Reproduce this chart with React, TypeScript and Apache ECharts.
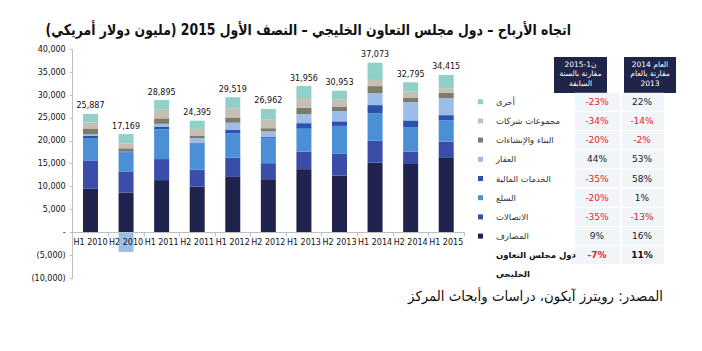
import React, { useEffect, useRef } from "react";
import * as echarts from "echarts";

const categories = ["H1 2010", "H2 2010", "H1 2011", "H2 2011", "H1 2012", "H2 2012", "H1 2013", "H2 2013", "H1 2014", "H2 2014", "H1 2015"];
const banks = [9500, 8700, 11400, 10000, 12100, 11600, 13800, 12400, 15200, 14900, 16400];
const telecom = [6100, 4500, 4600, 3700, 4200, 3500, 3850, 4750, 4800, 2750, 3400];
const commodities = [5000, 4300, 6500, 5800, 5300, 5400, 5000, 6100, 6000, 5350, 4700];
const financial = [450, 150, 600, 100, 750, 300, 1200, 1000, 1800, 1450, 1100];
const realEstate = [350, -4300, 600, 1000, 1600, 1250, 2000, 2250, 2600, 4000, 3700];
const construction = [1300, 700, 1200, 550, 1150, 700, 1400, 1000, 1550, 900, 1200];
const conglomerates = [1300, 1100, 2000, 1450, 2000, 1850, 2100, 1600, 1350, 1400, 1000];
const other = [1887, 2019, 1995, 1795, 2419, 2362, 2606, 1853, 3773, 2045, 2915];
const totals = [25887, 17169, 28895, 24395, 29519, 26962, 31956, 30953, 37073, 32795, 34415];

// table (top to bottom)
const tableNames = ["أخرى", "مجموعات شركات", "البناء والإنشاءات", "العقار", "الخدمات المالية", "السلع", "الاتصالات", "المصارف"];
const changeH1_2015 = ["-23%", "-34%", "-20%", "44%", "-35%", "-20%", "-35%", "9%"];
const change2014 = ["22%", "-14%", "-2%", "53%", "58%", "1%", "-13%", "16%"];
const totalName = ["دول مجلس التعاون", "الخليجي"];
const totalH1_2015 = "-7%";
const total2014 = "11%";
const header1 = ["ن1-2015", "مقارنة بالسنة", "السابقة"];
const header2 = ["العام 2014", "مقارنة بالعام", "2013"];
const title = "اتجاه الأرباح – دول مجلس التعاون الخليجي – النصف الأول 2015 (مليون دولار أمريكي)";
const source = "المصدر: رويترز آيكون، دراسات وأبحاث المركز";

const seriesDefs = [
  { name: "المصارف", data: banks, color: "#21234f" },
  { name: "الاتصالات", data: telecom, color: "#3a4da9" },
  { name: "السلع", data: commodities, color: "#4b8fd6" },
  { name: "الخدمات المالية", data: financial, color: "#2c52b0" },
  { name: "العقار", data: realEstate, color: "#9cbde9" },
  { name: "البناء والإنشاءات", data: construction, color: "#7e7b69" },
  { name: "مجموعات شركات", data: conglomerates, color: "#c5bfb3" },
  { name: "أخرى", data: other, color: "#8fd1c8" },
];

const FONT = "DejaVu Sans";

export default function App() {
  const ref = useRef<HTMLDivElement>(null);
  useEffect(() => {
    document.body.style.margin = "0";
    if (!ref.current) return;
    const chart = echarts.init(ref.current, null, { renderer: "svg" });
    const colorOf = (n: string) => seriesDefs.find((s) => s.name === n)!.color;
    const graphics: any[] = [];
    graphics.push({
      type: "text", x: 571, y: 30, scaleX: 0.83, originX: 0, originY: 0,
      style: { text: title, font: `bold 15px ${FONT}`, fill: "#111", textAlign: "right", textVerticalAlign: "middle" },
    });
    // header boxes
    const boxes = [
      { x: 554, w: 53, lines: header1 },
      { x: 624, w: 52, lines: header2 },
    ];
    boxes.forEach((b) => {
      graphics.push({ type: "rect", shape: { x: b.x, y: 57, width: b.w, height: 36 }, style: { fill: "#1f2449" } });
      b.lines.forEach((ln, i) => {
        graphics.push({
          type: "text", x: b.x + b.w / 2, y: 64.5 + i * 9.4,
          style: { text: ln, font: `7.5px ${FONT}`, fill: "#fff", textAlign: "center", textVerticalAlign: "middle" },
        });
      });
    });
    const rowY = (i: number) => 101.7 + i * 19.2;
    const col1 = 597, col2 = 642;
    for (let i = 0; i < 9; i++) {
      graphics.push({ type: "rect", shape: { x: 575, y: rowY(i) - 9, width: 45, height: 18 }, style: { fill: "#f1f5f9" } });
      graphics.push({ type: "rect", shape: { x: 622, y: rowY(i) - 9, width: 42, height: 18 }, style: { fill: "#f1f5f9" } });
    }
    tableNames.forEach((n, i) => {
      const y = rowY(i);
      graphics.push({ type: "rect", shape: { x: 478, y: y - 2.5, width: 5, height: 5 }, style: { fill: colorOf(n) } });
      graphics.push({ type: "text", x: 496, y, style: { text: n, font: `8.5px ${FONT}`, fill: "#333", textAlign: "left", textVerticalAlign: "middle" } });
      const v1 = changeH1_2015[i], v2 = change2014[i];
      graphics.push({ type: "text", x: col1, y, style: { text: v1, font: `9px ${FONT}`, fill: v1.startsWith("-") ? "#e5242a" : "#222", textAlign: "center", textVerticalAlign: "middle" } });
      graphics.push({ type: "text", x: col2, y, style: { text: v2, font: `9px ${FONT}`, fill: v2.startsWith("-") ? "#e5242a" : "#222", textAlign: "center", textVerticalAlign: "middle" } });
    });
    const ty = rowY(8);
    graphics.push({ type: "text", x: 496, y: ty, style: { text: totalName[0], font: `bold 8.5px ${FONT}`, fill: "#111", textAlign: "left", textVerticalAlign: "middle" } });
    graphics.push({ type: "text", x: 496, y: ty + 19, style: { text: totalName[1], font: `bold 8.5px ${FONT}`, fill: "#111", textAlign: "left", textVerticalAlign: "middle" } });
    graphics.push({ type: "text", x: col1, y: ty, style: { text: totalH1_2015, font: `bold 9px ${FONT}`, fill: "#e5242a", textAlign: "center", textVerticalAlign: "middle" } });
    graphics.push({ type: "text", x: col2, y: ty, style: { text: total2014, font: `bold 9px ${FONT}`, fill: "#111", textAlign: "center", textVerticalAlign: "middle" } });
    graphics.push({
      type: "text", x: 663, y: 296, scaleX: 0.95, originX: 0, originY: 0,
      style: { text: source, font: `14px ${FONT}`, fill: "#111", textAlign: "right", textVerticalAlign: "middle" },
    });

    chart.setOption({
      animation: false,
      grid: { left: 72.7, right: 238, top: 49.3, bottom: 73, containLabel: false },
      xAxis: {
        type: "category",
        data: categories,
        offset: -45.7,
        z: 10,
        axisLine: { onZero: false, lineStyle: { color: "#bfbfbf" } },
        axisTick: { show: true, length: 4, lineStyle: { color: "#bfbfbf" } },
        axisLabel: { color: "#111", fontFamily: FONT, fontSize: 8, margin: 6, interval: 0 },
      },
      yAxis: {
        type: "value",
        min: -10000,
        max: 40000,
        interval: 5000,
        splitLine: { show: false },
        axisLine: { show: true, lineStyle: { color: "#bfbfbf" } },
        axisTick: { show: true, length: 3, lineStyle: { color: "#bfbfbf" } },
        axisLabel: {
          color: "#111", fontFamily: FONT, fontSize: 8, margin: 7,
          formatter: (v: number) => (v === 0 ? "-" : v < 0 ? `(${Math.abs(v).toLocaleString("en-US")})` : v.toLocaleString("en-US")),
        },
      },
      series: seriesDefs.map((s, idx) => ({
        name: s.name,
        type: "bar",
        stack: "total",
        data: s.data,
        barWidth: 15,
        itemStyle: { color: s.color },
        label: idx === seriesDefs.length - 1 ? {
          show: true, position: "top", distance: 4, color: "#111", fontFamily: FONT, fontSize: 8,
          formatter: (p: any) => totals[p.dataIndex].toLocaleString("en-US"),
        } : { show: false },
      })),
      graphic: graphics,
    });
    return () => chart.dispose();
  }, []);
  return <div ref={ref} style={{ width: 702, height: 351 }} />;
}
